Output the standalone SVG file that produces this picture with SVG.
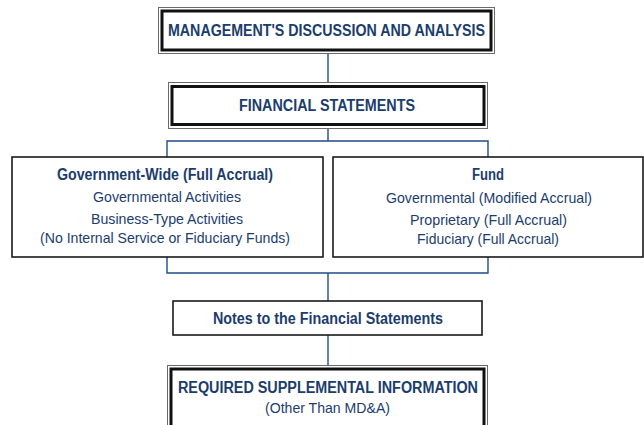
<svg xmlns="http://www.w3.org/2000/svg" width="644" height="425" viewBox="0 0 644 425">
  <style>
    .txt { font-family: "Liberation Sans", Arial, sans-serif; font-size: 15px; fill: #1b3d6d; text-anchor: middle; }
    .b { font-weight: bold; font-size: 16px; }
    .outer { fill: #ffffff; stroke: #6a6a6a; stroke-width: 1; }
    .inner { fill: none; stroke: #111111; stroke-width: 3; }
    .box { fill: #ffffff; stroke: #1a1a1a; stroke-width: 1.6; }
    .conn { fill: none; stroke: #1f4e85; stroke-width: 1.4; }
  </style>

  <rect width="644" height="425" fill="#ffffff"/>

  <!-- connectors -->
  <g id="connectors">
    <line class="conn" x1="328" y1="53" x2="328" y2="82"/>
    <polyline class="conn" points="328,128 328,141"/>
    <polyline class="conn" points="167,157 167,141 488,141 488,157"/>
    <polyline class="conn" points="167,257 167,273 488,273 488,257"/>
    <line class="conn" x1="328" y1="273" x2="328" y2="301"/>
    <line class="conn" x1="328" y1="335" x2="328" y2="365"/>
  </g>

  <!-- Management's discussion and analysis -->
  <g id="mda">
    <rect class="outer" x="158.5" y="7.5" width="336" height="46"/>
    <rect class="inner" x="162" y="11" width="329" height="39"/>
    <text class="txt b" x="326.5" y="36" textLength="317" lengthAdjust="spacingAndGlyphs">MANAGEMENT'S DISCUSSION AND ANALYSIS</text>
  </g>

  <!-- Financial statements -->
  <g id="financial-statements">
    <rect class="outer" x="168.5" y="82.5" width="319" height="46"/>
    <rect class="inner" x="172" y="86.5" width="312" height="38"/>
    <text class="txt b" x="327" y="111" textLength="176" lengthAdjust="spacingAndGlyphs">FINANCIAL STATEMENTS</text>
  </g>

  <!-- Government-wide statements -->
  <g id="government-wide">
    <rect class="box" x="12" y="157" width="311" height="100"/>
    <text class="txt b" x="165" y="180" textLength="216" lengthAdjust="spacingAndGlyphs">Government-Wide (Full Accrual)</text>
    <text class="txt" x="167" y="202" textLength="148" lengthAdjust="spacingAndGlyphs">Governmental Activities</text>
    <text class="txt" x="167" y="224" textLength="152" lengthAdjust="spacingAndGlyphs">Business-Type Activities</text>
    <text class="txt" x="165" y="243" textLength="250" lengthAdjust="spacingAndGlyphs">(No Internal Service or Fiduciary Funds)</text>
  </g>

  <!-- Fund statements -->
  <g id="fund">
    <rect class="box" x="333" y="157" width="310" height="100"/>
    <text class="txt b" x="488" y="180" textLength="32" lengthAdjust="spacingAndGlyphs">Fund</text>
    <text class="txt" x="489" y="203" textLength="206" lengthAdjust="spacingAndGlyphs">Governmental (Modified Accrual)</text>
    <text class="txt" x="488.5" y="225" textLength="157" lengthAdjust="spacingAndGlyphs">Proprietary (Full Accrual)</text>
    <text class="txt" x="488" y="244" textLength="142" lengthAdjust="spacingAndGlyphs">Fiduciary (Full Accrual)</text>
  </g>

  <!-- Notes -->
  <g id="notes">
    <rect class="box" x="173" y="301" width="309" height="34"/>
    <text class="txt b" x="328" y="324" textLength="230" lengthAdjust="spacingAndGlyphs">Notes to the Financial Statements</text>
  </g>

  <!-- Required supplemental information -->
  <g id="rsi">
    <rect class="outer" x="167.5" y="365.5" width="320" height="70"/>
    <rect class="inner" x="171" y="369" width="313" height="62"/>
    <text class="txt b" x="328" y="393" textLength="300" lengthAdjust="spacingAndGlyphs">REQUIRED SUPPLEMENTAL INFORMATION</text>
    <text class="txt" x="327.5" y="413" textLength="125" lengthAdjust="spacingAndGlyphs">(Other Than MD&amp;A)</text>
  </g>
</svg>
